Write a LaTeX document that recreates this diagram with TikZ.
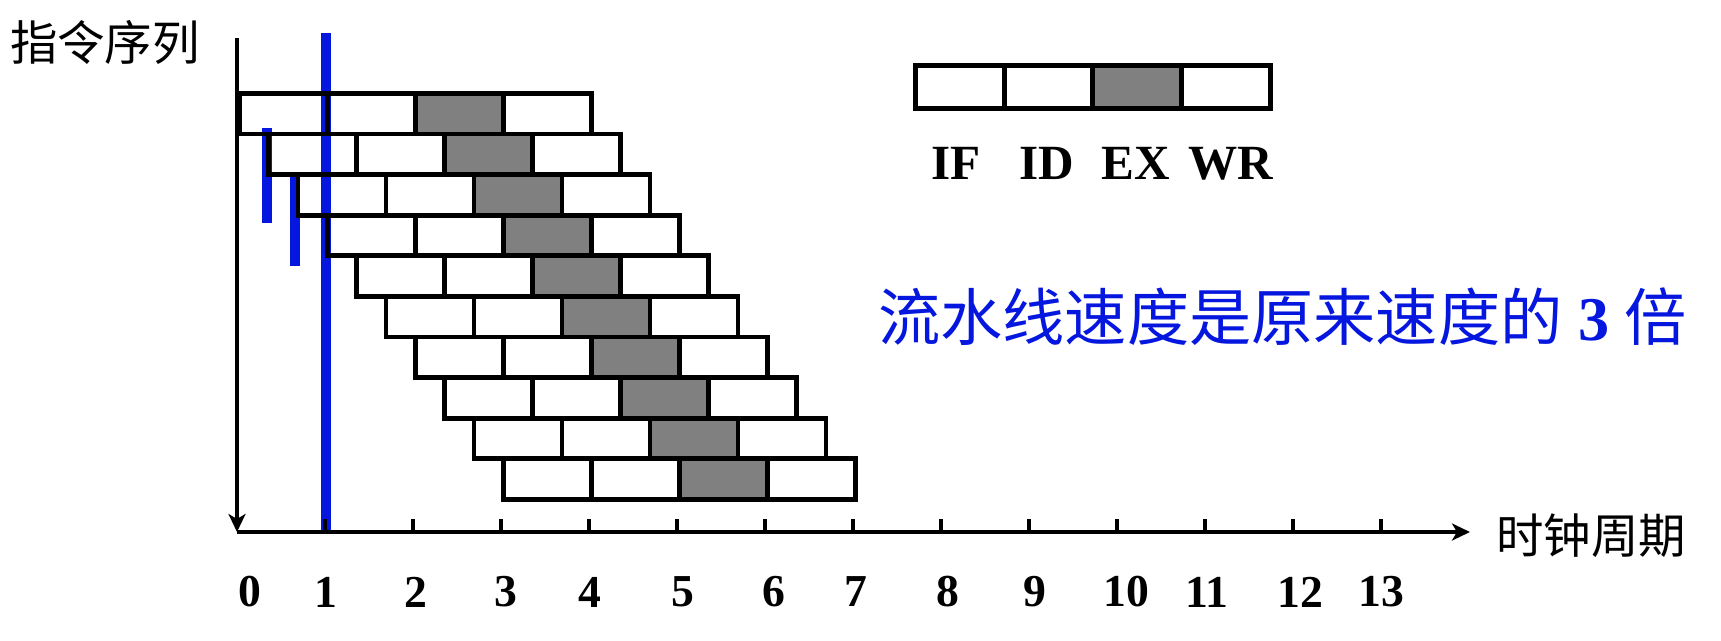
\documentclass[tikz,border=0pt]{standalone}
\usepackage{fontspec}
\setmainfont{Liberation Serif}
\newfontfamily\cjk{Noto Sans CJK SC}
\usetikzlibrary{arrows.meta}
\definecolor{pblue}{RGB}{5,22,222}
\definecolor{exgray}{RGB}{128,128,128}
\begin{document}
\begin{tikzpicture}[x=0.02cm,y=-0.02cm,
  wcell/.style={draw,line width=2.7pt,minimum width=1.76cm,minimum height=0.812cm,inner sep=0pt,anchor=north west},
  gcell/.style={wcell,fill=exgray},
  lwcell/.style={draw,line width=2.8pt,minimum width=1.774cm,minimum height=0.86cm,inner sep=0pt,anchor=north west},
  lgcell/.style={lwcell,fill=exgray},
  blueline/.style={draw=pblue,line width=6.2pt},
  axisline/.style={draw=black,line width=2.8pt},
  tip/.style={-{Stealth[length=0.36cm,width=0.34cm,inset=0.1cm]}},
  num/.style={inner sep=0pt,font=\fontsize{26}{30}\selectfont\bfseries},
  stage/.style={inner sep=0pt,font=\fontsize{28}{32}\selectfont\bfseries},
  cjklabel/.style={inner sep=0pt,font=\fontsize{27}{32}\selectfont\cjk},
  note/.style={inner sep=0pt,anchor=west,text=pblue,font=\fontsize{35.4}{40}\selectfont}
]
\useasboundingbox (0,0) rectangle (1721,640);

% blue marker lines
\draw[blueline] (326,33) -- (326,532);
\draw[blueline] (267,128) -- (267,223);
\draw[blueline] (295,175) -- (295,266);

% pipeline rows
\foreach \r in {0,...,9} {
  \pgfmathsetmacro\xs{237+88*\r/3}
  \pgfmathsetmacro\ys{91+40.6*\r}
  \foreach \k/\st in {0/wcell,1/wcell,2/gcell,3/wcell} {
    \node[\st] (c\r-\k) at ({\xs+88*\k},\ys) {};
  }
}

% axes
\coordinate (ytop) at (237,38);
\coordinate (O) at (237,532);
\coordinate (xend) at (1470,532);
\draw[axisline,tip] (ytop) -- (O);
\draw[axisline,tip] (O) -- (xend);
\foreach \k in {1,...,13} {
  \coordinate (tb\k) at ({237+88*\k},532);
  \coordinate (tt\k) at ({237+88*\k},519);
  \draw[axisline] (tb\k) -- (tt\k);
}

% tick labels
\foreach \v/\x in {0/250,1/326,2/416,3/506,4/590,5/683,6/774,7/856,8/948,9/1035,10/1126,11/1207,12/1300,13/1381} {
  \node[num] (n\v) at (\x,592) {\v};
}

% axis titles
\node[cjklabel] (ylab) at (105,42) {指令序列};
\node[cjklabel] (xlab) at (1591,536) {时钟周期};

% legend
\foreach \k/\st in {0/lwcell,1/lwcell,2/lgcell,3/lwcell} {
  \node[\st] (l\k) at ({913+88.7*\k},63) {};
}
\node[stage] (sIF) at (956,163.5) {IF};
\node[stage] (sID) at (1047,163.5) {ID};
\node[stage] (sEX) at (1136,163.5) {EX};
\node[stage] (sWR) at (1231,163.5) {WR};

% note
\node[note] (speed) at (878,317) {{\cjk 流水线速度是原来速度的}\hspace{0.25em}{\bfseries 3}\hspace{0.25em}{\cjk 倍}};
\end{tikzpicture}
\end{document}
